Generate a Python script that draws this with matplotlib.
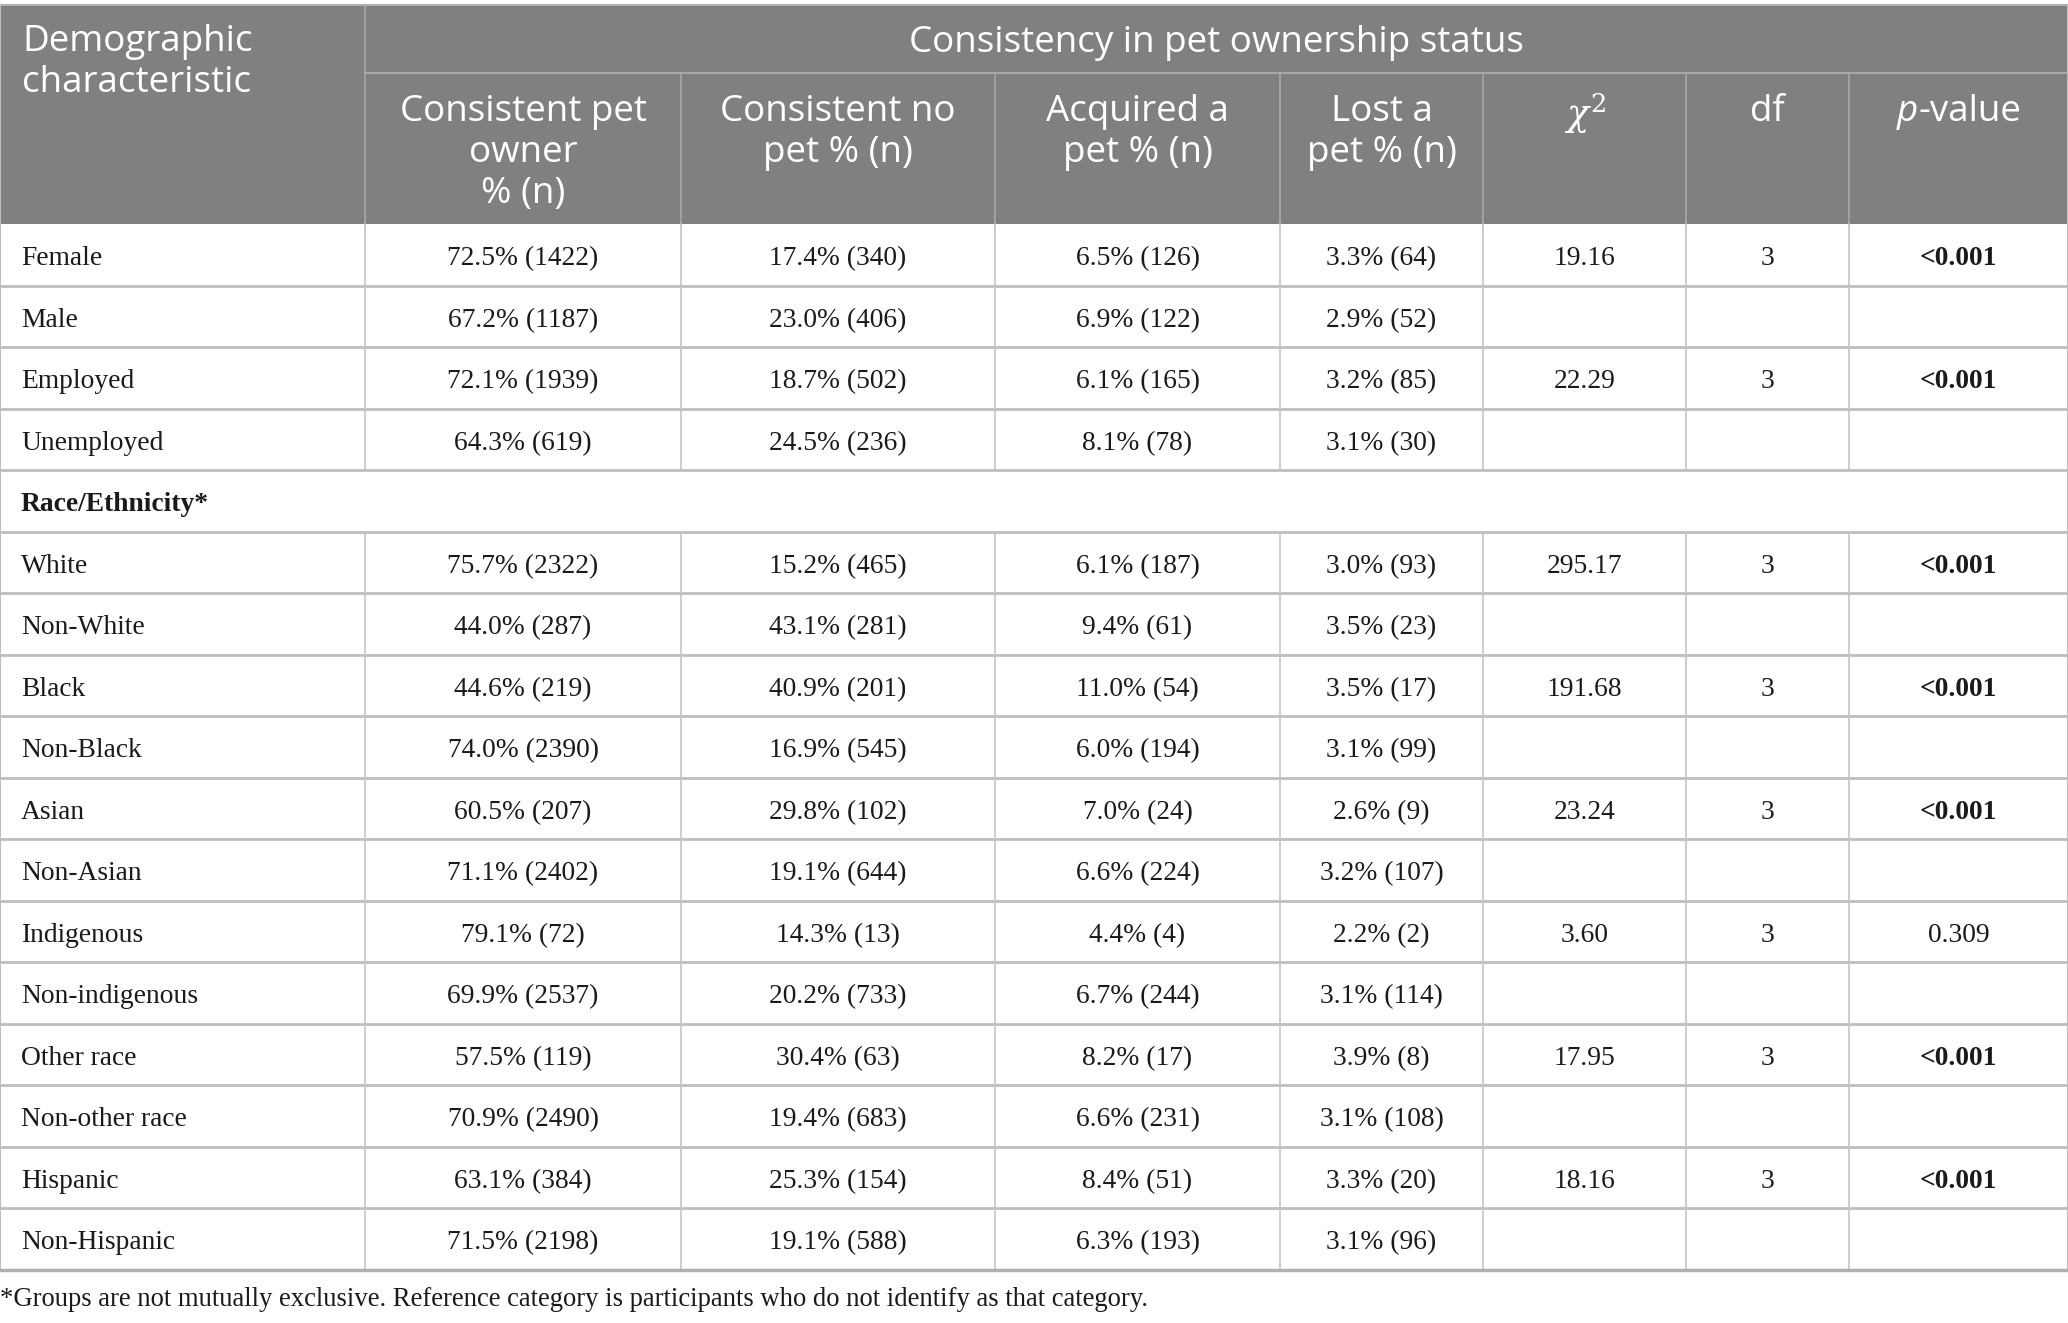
import matplotlib as mpl
mpl.use('Agg')
import matplotlib.pyplot as plt
import matplotlib.patches as mpatches

# ---- table data ----
labels = ["Female", "Male", "Employed", "Unemployed", "Race/Ethnicity*",
          "White", "Non-White", "Black", "Non-Black", "Asian", "Non-Asian",
          "Indigenous", "Non-indigenous", "Other race", "Non-other race",
          "Hispanic", "Non-Hispanic"]
consistent_owner = ["72.5% (1422)", "67.2% (1187)", "72.1% (1939)", "64.3% (619)", "",
                    "75.7% (2322)", "44.0% (287)", "44.6% (219)", "74.0% (2390)",
                    "60.5% (207)", "71.1% (2402)", "79.1% (72)", "69.9% (2537)",
                    "57.5% (119)", "70.9% (2490)", "63.1% (384)", "71.5% (2198)"]
consistent_no = ["17.4% (340)", "23.0% (406)", "18.7% (502)", "24.5% (236)", "",
                 "15.2% (465)", "43.1% (281)", "40.9% (201)", "16.9% (545)",
                 "29.8% (102)", "19.1% (644)", "14.3% (13)", "20.2% (733)",
                 "30.4% (63)", "19.4% (683)", "25.3% (154)", "19.1% (588)"]
acquired = ["6.5% (126)", "6.9% (122)", "6.1% (165)", "8.1% (78)", "",
            "6.1% (187)", "9.4% (61)", "11.0% (54)", "6.0% (194)",
            "7.0% (24)", "6.6% (224)", "4.4% (4)", "6.7% (244)",
            "8.2% (17)", "6.6% (231)", "8.4% (51)", "6.3% (193)"]
lost = ["3.3% (64)", "2.9% (52)", "3.2% (85)", "3.1% (30)", "",
        "3.0% (93)", "3.5% (23)", "3.5% (17)", "3.1% (99)",
        "2.6% (9)", "3.2% (107)", "2.2% (2)", "3.1% (114)",
        "3.9% (8)", "3.1% (108)", "3.3% (20)", "3.1% (96)"]
chi2 = ["19.16", "", "22.29", "", "", "295.17", "", "191.68", "", "23.24", "",
        "3.60", "", "17.95", "", "18.16", ""]
dfree = ["3", "", "3", "", "", "3", "", "3", "", "3", "", "3", "", "3", "", "3", ""]
pval = ["<0.001", "", "<0.001", "", "", "<0.001", "", "<0.001", "", "<0.001", "",
        "0.309", "", "<0.001", "", "<0.001", ""]
sub_headers = ["Consistent pet\nowner\n% (n)", "Consistent no\npet % (n)",
               "Acquired a\npet % (n)", "Lost a\npet % (n)", r"$\chi^2$", "df", None]
footnote = ("*Groups are not mutually exclusive. Reference category is "
            "participants who do not identify as that category.")

W, H = 2068, 1323
col_x = [0, 365, 681, 995, 1280, 1483, 1686, 1849, 2068]
head_top, head_mid, head_bot = 5, 72.5, 224
row_h = 61.5

HEAD_BG = "#808080"
HEAD_LINE = "#a8a8a8"
BODY_LINE = "#c4c4c4"
SANS = "Open Sans"
SERIF = "Liberation Serif"
HFS = 26.5   # header font size
BFS = 19.8   # body font size
LS = 1.18

fig = plt.figure(figsize=(W / 100, H / 100), dpi=100)
ax = fig.add_axes([0, 0, 1, 1])
ax.set_xlim(0, W)
ax.set_ylim(H, 0)
ax.axis("off")

# header block
ax.add_patch(mpatches.Rectangle((0, head_top), W, head_bot - head_top,
                                facecolor=HEAD_BG, edgecolor="none"))
ax.plot([0, W], [head_top, head_top], color="#b0b0b0", lw=1.5)
ax.plot([col_x[1], W], [head_mid, head_mid], color=HEAD_LINE, lw=1.5)
ax.plot([col_x[1], col_x[1]], [head_top, head_bot], color=HEAD_LINE, lw=1.2)
for x in col_x[2:-1]:
    ax.plot([x, x], [head_mid, head_bot], color=HEAD_LINE, lw=1.2)

ax.text(22, 24, "Demographic\ncharacteristic", color="white", family=SANS,
        fontsize=HFS, va="top", ha="left", linespacing=LS)
ax.text((col_x[1] + W) / 2, (head_top + head_mid) / 2 + 4,
        "Consistency in pet ownership status", color="white", family=SANS,
        fontsize=HFS, va="center", ha="center")
for i, h in enumerate(sub_headers):
    cx = (col_x[i + 1] + col_x[i + 2]) / 2
    if h is None:
        ax.text(cx - 40, 94, "p", color="white", family=SANS, style="italic",
                fontsize=HFS, va="top", ha="right")
        ax.text(cx - 40, 94, "-value", color="white", family=SANS,
                fontsize=HFS, va="top", ha="left")
    elif h.startswith("$"):
        ax.text(cx, 91, h, color="white", fontsize=HFS, va="top", ha="center",
                math_fontfamily="dejavuserif")
    else:
        ax.text(cx, 94, h, color="white", family=SANS, fontsize=HFS,
                va="top", ha="center", linespacing=LS)

# body rows
columns = [consistent_owner, consistent_no, acquired, lost, chi2, dfree, pval]
for r, lab in enumerate(labels):
    y0 = head_bot + r * row_h
    yc = y0 + row_h / 2 + 4
    ax.plot([0, W], [y0 + row_h, y0 + row_h], color="#bdbdbd", lw=2)
    spanning = all(c[r] == "" for c in columns[:4])
    if not spanning:
        for x in col_x[1:-1]:
            ax.plot([x, x], [y0, y0 + row_h], color=BODY_LINE, lw=1.2)
    ax.text(21, yc, lab, family=SERIF, fontsize=BFS, va="center", ha="left",
            fontweight="bold" if spanning else "normal", color="#1a1a1a")
    for c, vals in enumerate(columns):
        v = vals[r]
        if not v:
            continue
        cx = (col_x[c + 1] + col_x[c + 2]) / 2
        ax.text(cx, yc, v, family=SERIF, fontsize=BFS, va="center", ha="center",
                fontweight="bold" if v.startswith("<") else "normal",
                color="#1a1a1a")

table_bot = head_bot + len(labels) * row_h
ax.plot([0, 0], [head_top, table_bot], color="#bdbdbd", lw=1.5)
ax.plot([W, W], [head_top, table_bot], color="#bdbdbd", lw=1.5)
ax.plot([0, W], [table_bot, table_bot], color="#b0b0b0", lw=2.5)

ax.text(0, 1300, footnote, family=SERIF, fontsize=19.2, va="center",
        ha="left", color="#1a1a1a")

fig.savefig("out.png", dpi=100)
plt.close(fig)
